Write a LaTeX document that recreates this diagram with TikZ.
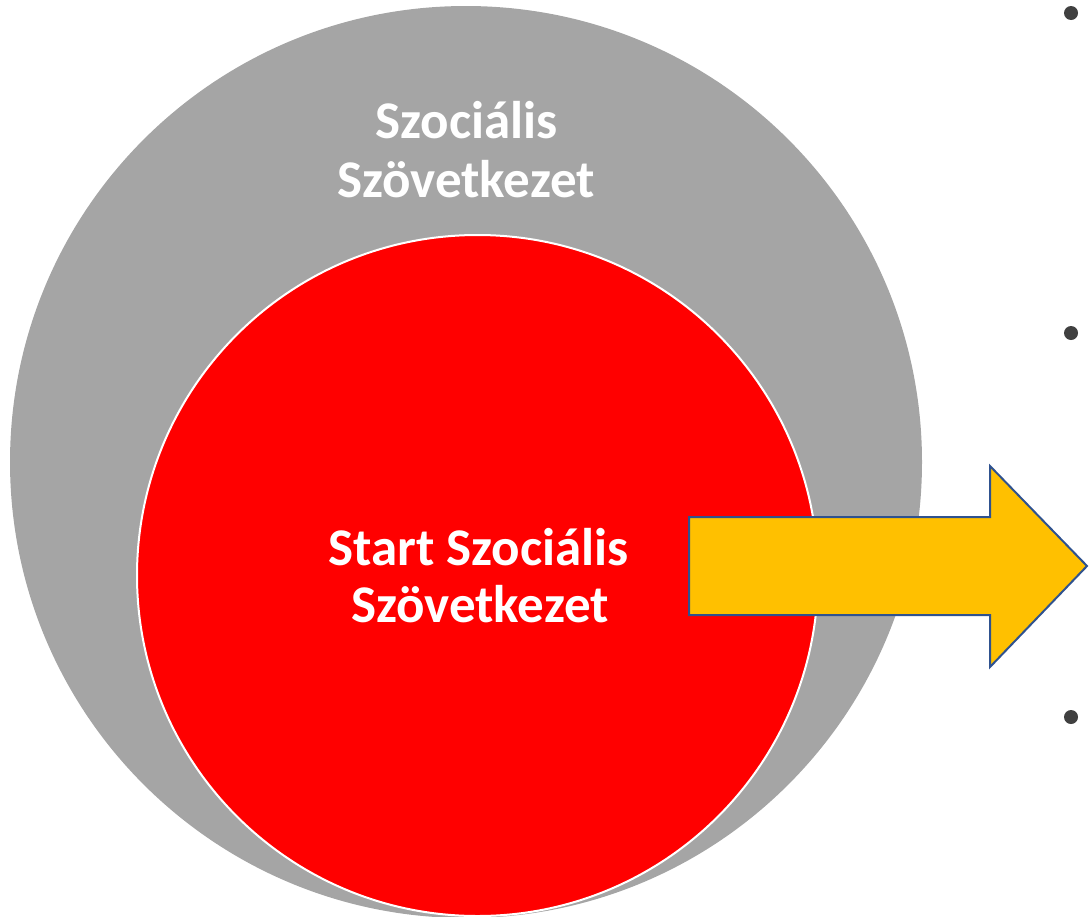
\documentclass[tikz,border=0pt]{standalone}
\usepackage{fontspec}
\setmainfont{Carlito}
\definecolor{greyc}{HTML}{A5A5A5}
\definecolor{redc}{HTML}{FF0000}
\definecolor{yellowc}{HTML}{FFC000}
\definecolor{bluec}{HTML}{2F528F}
\definecolor{dotc}{HTML}{404040}
\tikzset{
  label text/.style={text=white, font=\fontsize{53}{57}\selectfont\bfseries, anchor=base, inner sep=0pt},
  bulletdot/.style={circle, fill=dotc, minimum size=14pt, inner sep=0pt},
}
\begin{document}
\begin{tikzpicture}[x=1pt,y=-1pt]
\useasboundingbox (0,0) rectangle (1089,916);
\clip (0,0) rectangle (1089,916);
\node[circle, fill=greyc, minimum size=912pt, inner sep=0pt] (outer) at (466,462) {};
\node[circle, fill=redc, draw=white, line width=2pt, minimum size=681pt, inner sep=0pt] (inner) at (477.5,575.5) {};
\node[label text] (t1) at (466.5,138) {Szociális};
\node[label text] (t2) at (466,197) {Szövetkezet};
\node[label text] (t3) at (478.5,565) {Start Szociális};
\node[label text] (t4) at (480,622) {Szövetkezet};
\draw[fill=yellowc, draw=bluec, line width=2pt, line join=miter]
  (689,517) -- (990,517) -- (990,466) -- (1087,566) -- (990,667) -- (990,615) -- (689,615) -- cycle;
\node[bulletdot] (b1) at (1071,13) {};
\node[bulletdot] (b2) at (1071,333) {};
\node[bulletdot] (b3) at (1071,717) {};
\end{tikzpicture}
\end{document}
